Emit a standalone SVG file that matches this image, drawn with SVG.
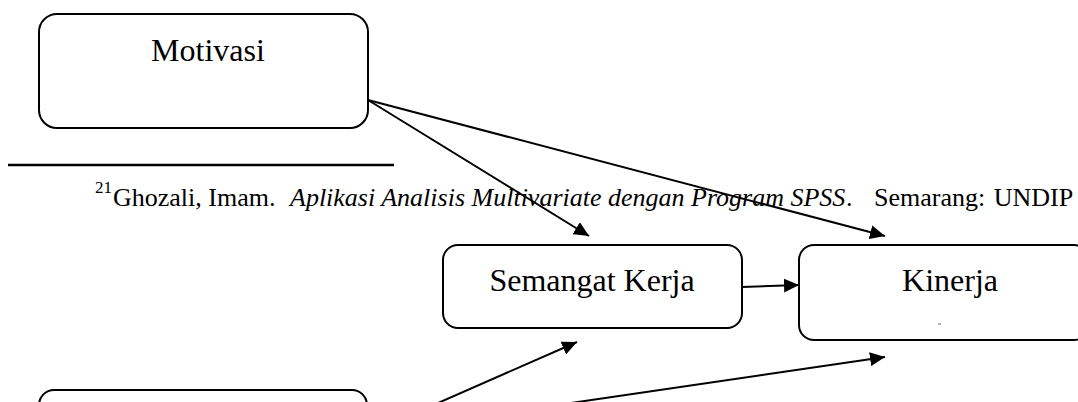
<svg xmlns="http://www.w3.org/2000/svg" width="1078" height="402" viewBox="0 0 1078 402">
<style>
.box{fill:#fff;stroke:#000;stroke-width:2}
.lbl{font-family:"Liberation Serif","Times New Roman",serif;font-size:32px;fill:#000;text-anchor:middle}
.fn{font-family:"Liberation Serif","Times New Roman",serif;font-size:26px;fill:#000}
.sup{font-size:17px}
.it{font-style:italic}
.conn{stroke:#000;stroke-width:2;fill:none;marker-end:url(#ah)}
</style>
<defs>
<marker id="ah" markerUnits="userSpaceOnUse" markerWidth="16" markerHeight="14" refX="15" refY="7" orient="auto">
<path d="M0,0 L15,7 L0,14 Z" fill="#000"/>
</marker>
</defs>
<rect width="1078" height="402" fill="#fff"/>
<g id="footnote">
<line x1="8" y1="165" x2="394" y2="165" stroke="#000" stroke-width="2.6"/>
<text class="fn"><tspan class="sup" x="95" y="193">21</tspan><tspan x="113" y="206">Ghozali, Imam.</tspan><tspan class="it" x="290" y="206">Aplikasi Analisis Multivariate dengan Program SPSS</tspan><tspan x="846" y="206">.</tspan><tspan x="874" y="206" word-spacing="2">Semarang: UNDIP</tspan></text>
</g>
<g id="motivasi">
<rect class="box" x="39" y="14" width="329" height="114" rx="18"/>
<text class="lbl" x="208" y="61">Motivasi</text>
</g>
<g id="semangat-kerja">
<rect class="box" x="443" y="245" width="299" height="83" rx="15"/>
<text class="lbl" x="592" y="291">Semangat Kerja</text>
</g>
<g id="kinerja">
<rect class="box" x="799" y="245" width="290" height="95" rx="15"/>
<text class="lbl" x="950" y="291">Kinerja</text>
<line x1="938" y1="324" x2="941" y2="324" stroke="#666" stroke-width="1"/>
</g>
<g id="bottom-node">
<rect class="box" x="39" y="390" width="328" height="40" rx="15"/>
</g>
<g id="connectors">
<line class="conn" x1="368" y1="100" x2="589" y2="236"/>
<line class="conn" x1="368" y1="100" x2="885" y2="236"/>
<line class="conn" x1="742" y1="287" x2="799" y2="285"/>
<line class="conn" x1="438" y1="403" x2="577" y2="342"/>
<line class="conn" x1="571" y1="403" x2="885" y2="357"/>
</g>
</svg>
